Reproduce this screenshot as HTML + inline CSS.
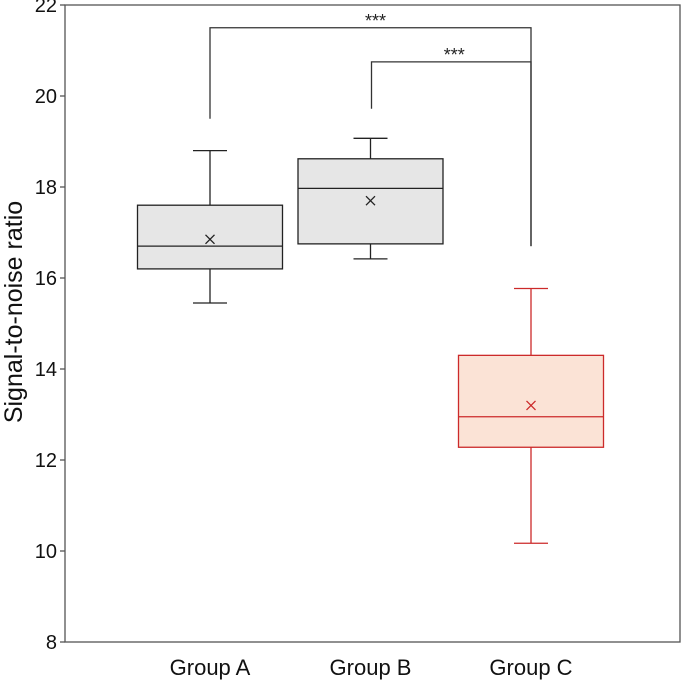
<!DOCTYPE html>
<html><head><meta charset="utf-8"><style>
html,body{margin:0;padding:0;background:#fff;}
svg{display:block;font-family:"Liberation Sans",Arial,sans-serif;}
</style></head><body>
<svg id="chart" width="685" height="688" viewBox="0 0 685 688"></svg>
<script>
const groups = ["Group A","Group B","Group C"];
const maxVals = [18.8, 19.07, 15.77];
const q3Vals = [17.6, 18.62, 14.3];
const medVals = [16.7, 17.97, 12.95];
const q1Vals = [16.2, 16.75, 12.28];
const minVals = [15.45, 16.42, 10.17];
const meanVals = [16.85, 17.7, 13.2];
const yTicks = [8,10,12,14,16,18,20,22];
const brackets = [{from:0,to:2,top:21.5,fromEnd:19.5,toEnd:16.7,label:"***"},{from:1,to:2,top:20.75,fromEnd:19.72,toEnd:16.7,label:"***"}];

const NS="http://www.w3.org/2000/svg";
const svg=document.getElementById('chart');
const X0=65,X1=680,Y0=5,YB=642;
const y=v=>YB-(v-8)*(YB-Y0)/14;
const cx=i=>210+i*160.5;
function mk(tag,attrs,parent){const e=document.createElementNS(NS,tag);for(const k in attrs)e.setAttribute(k,attrs[k]);(parent||svg).appendChild(e);return e;}

const frame=mk('rect',{x:X0,y:Y0,width:X1-X0,height:YB-Y0,fill:'none',stroke:'#555','stroke-width':1.3});



yTicks.forEach(t=>{
  const g=mk('g',{});
  
  
  mk('line',{x1:X0-5,x2:X0,y1:y(t),y2:y(t),stroke:'#555','stroke-width':1.3},g);
  const tx=mk('text',{x:X0-8,y:y(t)+7,'text-anchor':'end','font-size':20,fill:'#111'},g);
  tx.textContent=t;
});

const yt=mk('text',{x:22,y:312,'text-anchor':'middle','font-size':25,fill:'#111',transform:'rotate(-90 22 312)'});


yt.textContent='Signal-to-noise ratio';

groups.forEach((name,i)=>{
  const red=i===2;
  const col=red?'#cc2a2a':'#222', fill=red?'#fbe3d6':'#e6e6e6';
  const c=cx(i), hw=72.5, cap=17;
  const g=mk('g',{});
  
  
  mk('line',{x1:c,x2:c,y1:y(maxVals[i]),y2:y(q3Vals[i]),stroke:col,'stroke-width':1.3},g);
  mk('line',{x1:c,x2:c,y1:y(q1Vals[i]),y2:y(minVals[i]),stroke:col,'stroke-width':1.3},g);
  mk('line',{x1:c-cap,x2:c+cap,y1:y(maxVals[i]),y2:y(maxVals[i]),stroke:col,'stroke-width':1.3},g);
  mk('line',{x1:c-cap,x2:c+cap,y1:y(minVals[i]),y2:y(minVals[i]),stroke:col,'stroke-width':1.3},g);
  mk('rect',{x:c-hw,y:y(q3Vals[i]),width:2*hw,height:y(q1Vals[i])-y(q3Vals[i]),fill:fill,stroke:col,'stroke-width':1.3},g);
  mk('line',{x1:c-hw,x2:c+hw,y1:y(medVals[i]),y2:y(medVals[i]),stroke:col,'stroke-width':1.3},g);
  const m=y(meanVals[i]),s=4.5;
  mk('path',{d:`M${c-s},${m-s}L${c+s},${m+s}M${c-s},${m+s}L${c+s},${m-s}`,stroke:col,'stroke-width':1.3},g);
  const lb=mk('text',{x:c,y:675,'text-anchor':'middle','font-size':22,fill:'#111'});
  
  
  lb.textContent=name;
});

brackets.forEach((b,k)=>{
  const g=mk('g',{});
  
  
  const xa=cx(b.from)+(b.from===1?1:0), xb=cx(b.to);
  mk('path',{d:`M${xa},${y(b.fromEnd)}V${y(b.top)}H${xb}V${y(b.toEnd)}`,fill:'none',stroke:'#333','stroke-width':1.3},g);
  const t=mk('text',{x:k===0?(xa+xb)/2+5:(xa+xb)/2+3,y:y(b.top)-1,'text-anchor':'middle','font-size':18,fill:'#222'},g);
  t.textContent=b.label;
});
</script>
</body></html>
